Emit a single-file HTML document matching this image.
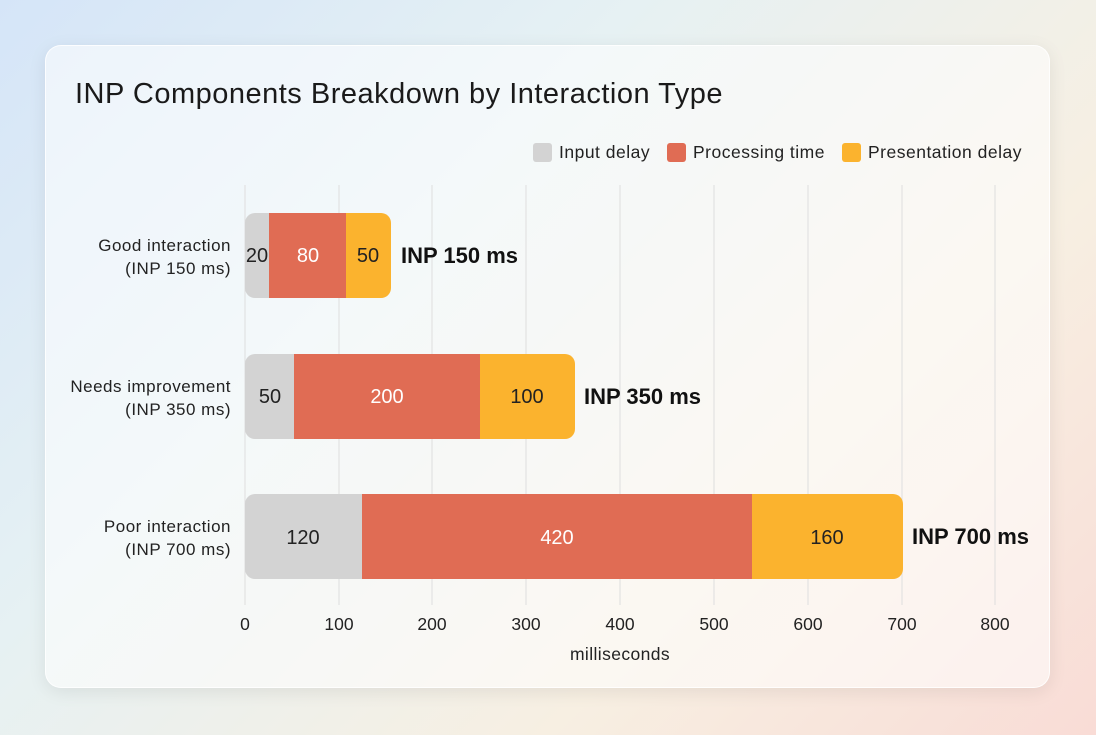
<!DOCTYPE html>
<html><head><meta charset="utf-8"><style>
html,body{margin:0;padding:0;}
body{width:1096px;height:735px;overflow:hidden;font-family:"Liberation Sans",sans-serif;
background:linear-gradient(135deg,#d5e5f8 0%,#e6f1f3 35%,#f7efe2 70%,#f9dcd6 100%);position:relative;}
.card{position:absolute;left:45px;top:45px;width:1005px;height:643px;border-radius:16px;
background:rgba(255,255,255,0.55);box-shadow:0 4px 18px rgba(0,0,0,0.08);border:1px solid rgba(255,255,255,0.8);box-sizing:border-box;}
svg{position:absolute;left:0;top:0;}
</style></head><body>
<div class="card"></div>
<svg width="1096" height="735" font-family="Liberation Sans, sans-serif">
<text x="75" y="103" font-size="29" letter-spacing="0.5" fill="#1a1a1a">INP Components Breakdown by Interaction Type</text>
<rect x="533" y="143" width="19" height="19" rx="3" fill="#d3d3d3"/>
<text x="559" y="158" font-size="17.5" letter-spacing="0.5" fill="#222">Input delay</text>
<rect x="667" y="143" width="19" height="19" rx="3" fill="#e06c54"/>
<text x="693" y="158" font-size="17.5" letter-spacing="0.5" fill="#222">Processing time</text>
<rect x="842" y="143" width="19" height="19" rx="3" fill="#fbb32e"/>
<text x="868" y="158" font-size="17.5" letter-spacing="0.5" fill="#222">Presentation delay</text>
<g stroke="#dedede" stroke-width="1">
<line x1="245" y1="185" x2="245" y2="605"/><line x1="339" y1="185" x2="339" y2="605"/>
<line x1="432" y1="185" x2="432" y2="605"/><line x1="526" y1="185" x2="526" y2="605"/>
<line x1="620" y1="185" x2="620" y2="605"/><line x1="714" y1="185" x2="714" y2="605"/>
<line x1="808" y1="185" x2="808" y2="605"/><line x1="902" y1="185" x2="902" y2="605"/>
<line x1="995" y1="185" x2="995" y2="605"/>
</g>
<defs>
<clipPath id="c1"><rect x="245" y="213" width="146" height="85" rx="10"/></clipPath>
<clipPath id="c2"><rect x="245" y="354" width="330" height="85" rx="10"/></clipPath>
<clipPath id="c3"><rect x="245" y="494" width="658" height="85" rx="10"/></clipPath>
</defs>
<g clip-path="url(#c1)"><rect x="245" y="213" width="24" height="85" fill="#d3d3d3"/><rect x="269" y="213" width="77" height="85" fill="#e06c54"/><rect x="346" y="213" width="45" height="85" fill="#fbb32e"/></g>
<g clip-path="url(#c2)"><rect x="245" y="354" width="49" height="85" fill="#d3d3d3"/><rect x="294" y="354" width="186" height="85" fill="#e06c54"/><rect x="480" y="354" width="95" height="85" fill="#fbb32e"/></g>
<g clip-path="url(#c3)"><rect x="245" y="494" width="117" height="85" fill="#d3d3d3"/><rect x="362" y="494" width="390" height="85" fill="#e06c54"/><rect x="752" y="494" width="151" height="85" fill="#fbb32e"/></g>
<g font-size="20" text-anchor="middle">
<text x="257" y="262" fill="#222">20</text><text x="308" y="262" fill="#fff">80</text><text x="368" y="262" fill="#222">50</text>
<text x="270" y="403" fill="#222">50</text><text x="387" y="403" fill="#fff">200</text><text x="527" y="403" fill="#222">100</text>
<text x="303" y="544" fill="#222">120</text><text x="557" y="544" fill="#fff">420</text><text x="827" y="544" fill="#222">160</text>
</g>
<g font-size="22" font-weight="bold" fill="#111">
<text x="401" y="263">INP 150 ms</text><text x="584" y="404">INP 350 ms</text><text x="912" y="544">INP 700 ms</text>
</g>
<g font-size="17" letter-spacing="0.5" fill="#222" text-anchor="end">
<text x="231" y="251">Good interaction</text><text x="231" y="274">(INP 150 ms)</text>
<text x="231" y="392">Needs improvement</text><text x="231" y="415">(INP 350 ms)</text>
<text x="231" y="532">Poor interaction</text><text x="231" y="555">(INP 700 ms)</text>
</g>
<g font-size="17.5" fill="#222" text-anchor="middle">
<text x="245" y="630">0</text><text x="339" y="630">100</text><text x="432" y="630">200</text>
<text x="526" y="630">300</text><text x="620" y="630">400</text><text x="714" y="630">500</text>
<text x="808" y="630">600</text><text x="902" y="630">700</text><text x="995" y="630">800</text>
<text x="620" y="660" letter-spacing="0.4">milliseconds</text>
</g>
</svg>
</body></html>
